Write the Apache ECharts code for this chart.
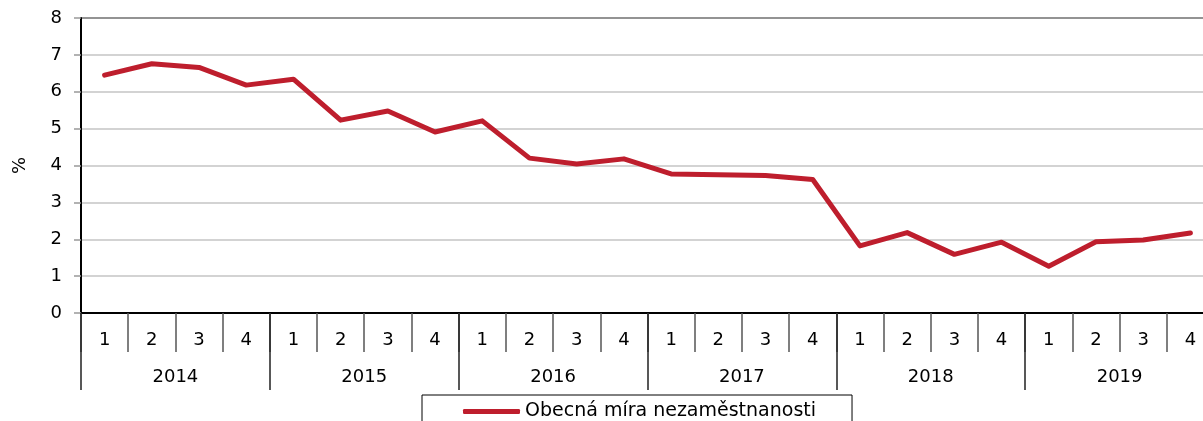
<!DOCTYPE html>
<html>
<head>
<meta charset="utf-8">
<script src="https://cdn.jsdelivr.net/npm/echarts@6/dist/echarts.min.js"></script>
<style>html,body{margin:0;padding:0;background:#fff;}#c{width:1203px;height:421px;}</style>
</head>
<body>
<div id="c"></div>
<script>
const years = ['2014', '2015', '2016', '2017', '2018', '2019'];
const quarters = ['1','2','3','4','1','2','3','4','1','2','3','4','1','2','3','4','1','2','3','4','1','2','3','4'];
const rate = [6.45, 6.76, 6.66, 6.18, 6.34, 5.23, 5.48, 4.91, 5.21, 4.20, 4.04, 4.18, 3.77, 3.75, 3.73, 3.62, 1.82, 2.18, 1.59, 1.92, 1.27, 1.93, 1.98, 2.17];
const seriesName = 'Obecná míra nezaměstnanosti';
const yTicks = [0, 1, 2, 3, 4, 5, 6, 7, 8];

const font = 'DejaVu Sans';
const chart = echarts.init(document.getElementById('c'));
chart.setOption({
  animation: false,
  backgroundColor: '#fff',
  textStyle: { fontFamily: font },
  grid: { left: 81, top: 18, width: 1133, height: 295, outerBoundsMode: 'none', containLabel: false, show: true, borderColor: '#000', borderWidth: 2, backgroundColor: 'transparent' },
  legend: {
    left: 422, top: 395,
    padding: [7, 36, 8, 41],
    borderColor: '#000', borderWidth: 1,
    itemWidth: 57, itemHeight: 5,
    icon: 'roundRect',
    textStyle: { fontFamily: font, fontSize: 19, color: '#000' },
    data: [seriesName]
  },
  xAxis: [
    {
      type: 'category', data: quarters, position: 'bottom', boundaryGap: true,
      axisLine: { show: true, lineStyle: { color: '#000', width: 2 } },
      axisTick: { show: true, interval: 0, length: 39, lineStyle: { color: '#555', width: 1.5 } },
      axisLabel: { interval: 0, margin: 18, fontSize: 18, color: '#000', fontFamily: font },
      splitLine: { show: false }
    },
    {
      type: 'category', data: years, position: 'bottom', boundaryGap: true,
      axisLine: { show: false },
      axisTick: { show: true, interval: 0, length: 77, lineStyle: { color: '#222', width: 1.5 } },
      axisLabel: { interval: 0, margin: 55, fontSize: 18, color: '#000', fontFamily: font },
      splitLine: { show: false }
    }
  ],
  yAxis: {
    type: 'value', min: yTicks[0], max: yTicks[yTicks.length - 1], interval: 1,
    name: '%', nameLocation: 'middle', nameGap: 52, nameRotate: 90,
    nameTextStyle: { fontSize: 18, color: '#000', fontFamily: font },
    axisLine: { show: true, lineStyle: { color: '#000', width: 2 } },
    axisTick: { show: true, length: 7, lineStyle: { color: '#999', width: 1.5 } },
    axisLabel: { margin: 19, fontSize: 18, color: '#000', fontFamily: font },
    splitLine: { show: true, lineStyle: { color: '#c4c4c4', width: 1.5 } }
  },
  series: [{
    name: seriesName, type: 'line', xAxisIndex: 0, data: rate,
    showSymbol: false, symbol: 'none',
    lineStyle: { color: '#be1e2d', width: 5, cap: 'round', join: 'round' },
    itemStyle: { color: '#be1e2d' }
  }]
});
</script>
</body>
</html>
